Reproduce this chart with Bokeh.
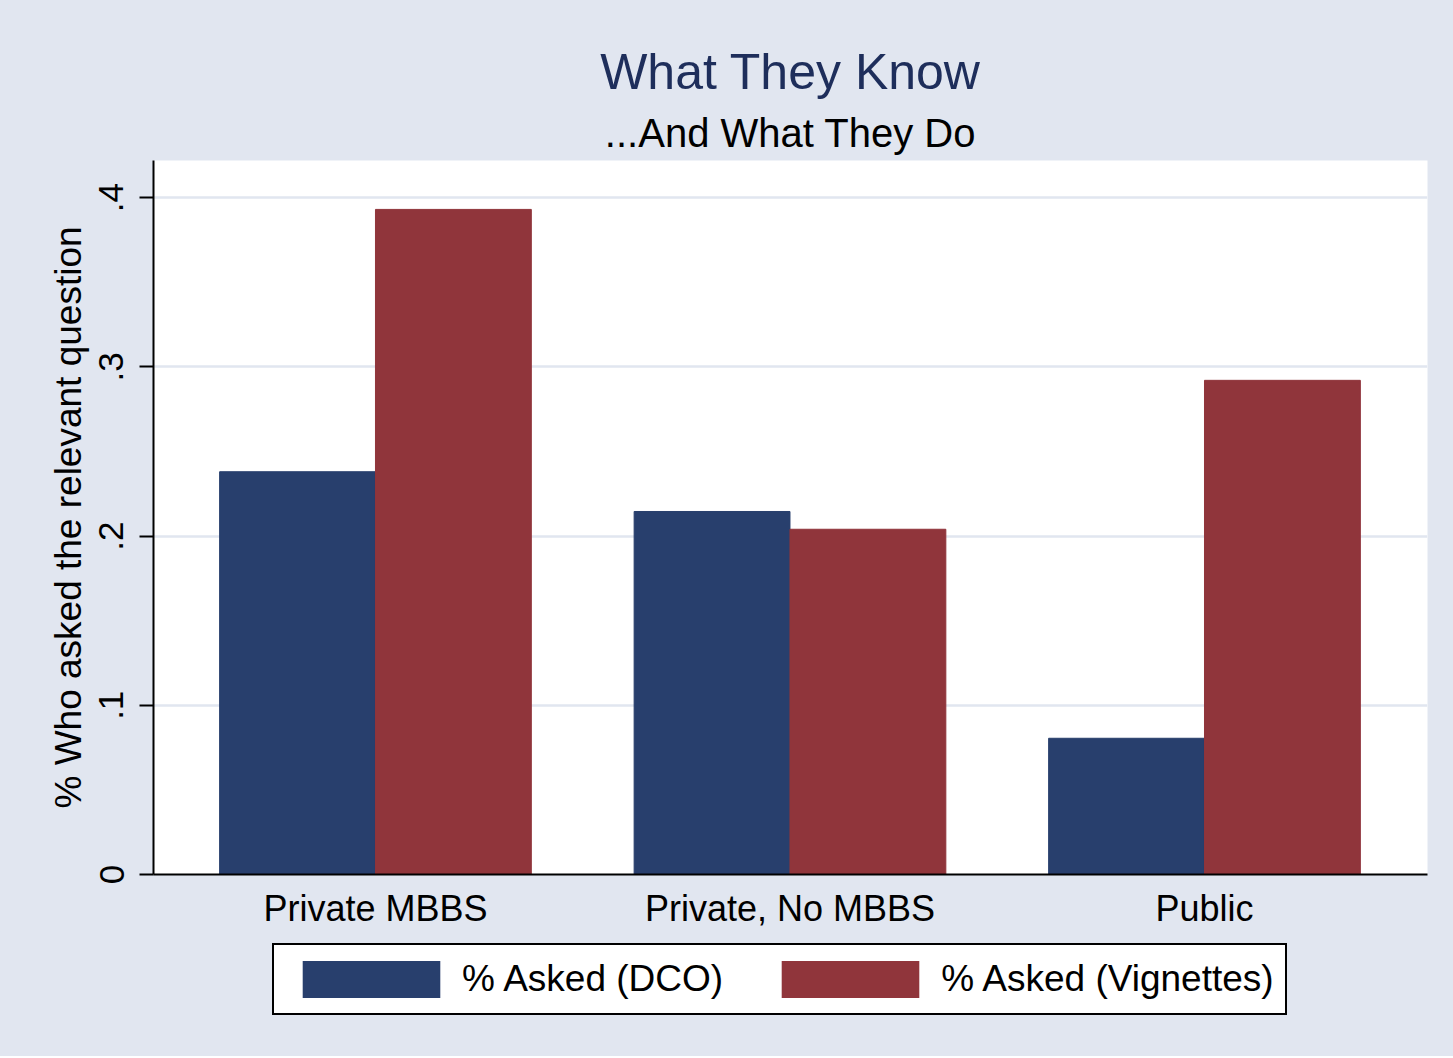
from bokeh.plotting import figure
from bokeh.layouts import column
from bokeh.models import (ColumnDataSource, FixedTicker, Legend, LegendItem,
                          Title, Range1d)
from bokeh.transform import dodge
from bokeh.embed import file_html
from bokeh.resources import INLINE

# ---- data ----
categories = ["Private MBBS", "Private, No MBBS", "Public"]
dco = [0.238, 0.2145, 0.0805]
vignettes = [0.393, 0.204, 0.292]
series_names = ["% Asked (DCO)", "% Asked (Vignettes)"]
y_ticks = [0, 0.1, 0.2, 0.3, 0.4]
y_tick_labels = ["0", ".1", ".2", ".3", ".4"]

FONT = "Liberation Sans"
BG = "#E1E6F0"
NAVY = "#283F6D"
MAROON = "#90353B"

xpos = [i + 1 for i in range(len(categories))]
src = ColumnDataSource(dict(x=xpos, dco=dco, vig=vignettes))

p = figure(frame_width=1274, frame_height=714,
           min_border_left=153, min_border_right=26,
           min_border_top=160, min_border_bottom=56,
           x_range=Range1d(0.4645, 3.538), y_range=Range1d(0, 0.4219),
           output_backend="svg", toolbar_location=None,
           title="What They Know")

p.background_fill_color = "white"
p.border_fill_color = BG
p.outline_line_color = None

bw = 0.376
r1 = p.vbar(x=dodge("x", -bw / 2, range=p.x_range), top="dco", width=bw,
            source=src, fill_color=NAVY, line_color=NAVY, line_width=1)
r2 = p.vbar(x=dodge("x", bw / 2, range=p.x_range), top="vig", width=bw,
            source=src, fill_color=MAROON, line_color=MAROON, line_width=1)

# titles
p.title.text_font = FONT
p.title.text_font_size = "50px"
p.title.text_font_style = "normal"
p.title.text_color = "#1E2E5B"
p.title.align = "center"
p.title.standoff = 5
p.add_layout(Title(text="...And What They Do", align="center", text_font=FONT,
                   text_font_size="40px", text_font_style="normal",
                   text_color="black", standoff=12), "above")

# grid
p.xgrid.grid_line_color = None
p.ygrid.ticker = FixedTicker(ticks=y_ticks[1:])
p.ygrid.grid_line_color = BG
p.ygrid.grid_line_width = 2.5

# x axis
xa = p.xaxis[0]
xa.ticker = FixedTicker(ticks=xpos)
xa.major_label_overrides = {x: c for x, c in zip(xpos, categories)}
xa.major_tick_line_color = None
xa.minor_tick_line_color = None
xa.axis_line_color = "black"
xa.axis_line_width = 2
xa.major_label_text_font = FONT
xa.major_label_text_font_size = "36px"
xa.major_label_text_color = "black"
xa.major_label_standoff = 7

# y axis
ya = p.yaxis[0]
ya.ticker = FixedTicker(ticks=y_ticks)
ya.major_label_overrides = {t: l for t, l in zip(y_ticks, y_tick_labels)}
ya.major_label_orientation = "vertical"
ya.major_tick_out = 14
ya.major_tick_in = 0
ya.major_tick_line_width = 2
ya.major_tick_line_color = "black"
ya.minor_tick_line_color = None
ya.axis_line_color = "black"
ya.axis_line_width = 2
ya.major_label_text_font = FONT
ya.major_label_text_font_size = "35px"
ya.major_label_text_color = "black"
ya.major_label_standoff = 16
ya.axis_label = "% Who asked the relevant question"
ya.axis_label_text_font = FONT
ya.axis_label_text_font_size = "37px"
ya.axis_label_text_font_style = "normal"
ya.axis_label_text_color = "black"
ya.axis_label_standoff = 8

# ---- legend strip below the chart ----
lg = figure(frame_width=1453, frame_height=125,
            min_border_left=0, min_border_right=0,
            min_border_top=0, min_border_bottom=0,
            x_range=Range1d(4, 5), y_range=Range1d(1, 2),
            x_axis_location=None, y_axis_location=None,
            output_backend="svg", toolbar_location=None)
lg.background_fill_color = BG
lg.border_fill_color = BG
lg.outline_line_color = None
lg.grid.visible = False
# key renderers share the chart data but sit outside this strip's ranges
k1 = lg.vbar(x="x", top="dco", width=bw, source=src,
             fill_color=NAVY, line_color=None)
k2 = lg.vbar(x="x", top="vig", width=bw, source=src,
             fill_color=MAROON, line_color=None)

legend = Legend(items=[LegendItem(label=series_names[0], renderers=[k1]),
                       LegendItem(label=series_names[1], renderers=[k2])],
                orientation="horizontal", location=(272, 41),
                glyph_width=172, glyph_height=46, label_standoff=5,
                spacing=41, padding=11, margin=0,
                border_line_color="black", border_line_width=2,
                border_line_alpha=1,
                background_fill_color="white", background_fill_alpha=1,
                label_text_font=FONT, label_text_font_size="37px",
                label_text_color="black")
lg.add_layout(legend, "center")

layout = column(p, lg, spacing=0, styles={"background-color": BG})
open("out.html", "w").write(file_html(layout, INLINE))
